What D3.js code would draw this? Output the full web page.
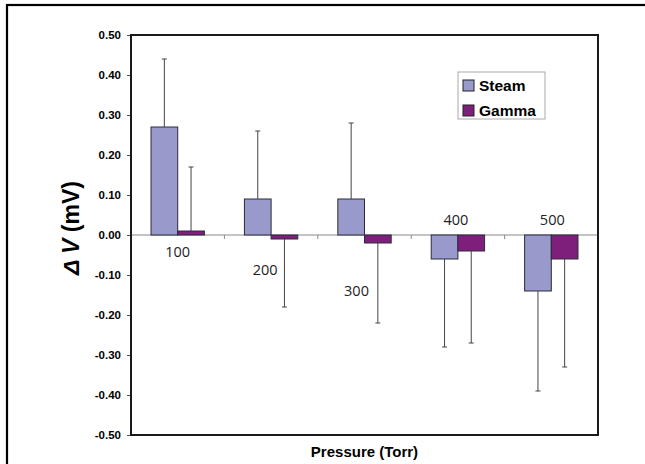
<!DOCTYPE html>
<html>
<head>
<meta charset="utf-8">
<script src="https://cdn.jsdelivr.net/npm/d3@7"></script>
<style>
  body { margin: 0; background: #fff; }
  svg { display: block; }
</style>
</head>
<body>
<svg id="chart" width="645" height="464"></svg>
<script>
// chart values
const pressures = ['100', '200', '300', '400', '500'];
const series = ['Steam', 'Gamma'];
const steamValues = [0.27, 0.09, 0.09, -0.06, -0.14];
const gammaValues = [0.01, -0.01, -0.02, -0.04, -0.06];
// one-sided error bars (away from zero)
const steamErrors = [0.17, 0.17, 0.19, 0.22, 0.25];
const gammaErrors = [0.16, 0.17, 0.20, 0.23, 0.27];
const yTicks = [0.5, 0.4, 0.3, 0.2, 0.1, 0, -0.1, -0.2, -0.3, -0.4, -0.5];

const colors = { Steam: '#9999cc', Gamma: '#7f1f7c' };

const svg = d3.select('#chart');
const plot = { left: 131, top: 35, right: 598, bottom: 435 };

// outer frame (runs off the right and bottom of the window)
svg.append('rect')
  .attr('x', 7).attr('y', 5)
  .attr('width', 700).attr('height', 500)
  .attr('fill', 'none')
  .attr('stroke', '#000')
  .attr('stroke-width', 2.2);

const x = d3.scaleBand()
  .domain(pressures)
  .range([plot.left, plot.right]);

const xSub = d3.scaleBand()
  .domain(series)
  .range([0, x.bandwidth()])
  .paddingOuter(0.75);

const y = d3.scaleLinear()
  .domain([-0.5, 0.5])
  .range([plot.bottom, plot.top]);

const rows = pressures.map((p, i) => ({
  p: p,
  bars: [
    { s: 'Steam', v: steamValues[i], e: steamErrors[i] },
    { s: 'Gamma', v: gammaValues[i], e: gammaErrors[i] }
  ]
}));

// y axis, plain hyphen for negatives like the original
const fmt = d3.format('.2f');
const yAxis = d3.axisLeft(y)
  .tickValues(yTicks)
  .tickSize(4)
  .tickPadding(6)
  .tickFormat(d => fmt(d).replace('\u2212', '-'));

const ya = svg.append('g')
  .attr('transform', `translate(${plot.left},0)`)
  .call(yAxis);
ya.select('.domain').remove();
ya.selectAll('line').attr('stroke', '#555');
ya.selectAll('text')
  .attr('font-family', 'Arial, "Liberation Sans", sans-serif')
  .attr('font-weight', 'bold')
  .attr('font-size', 11.5)
  .attr('fill', '#000');

// zero line with ticks between categories
svg.append('line')
  .attr('x1', plot.left).attr('x2', plot.right)
  .attr('y1', y(0)).attr('y2', y(0))
  .attr('stroke', '#8a8a8a');

svg.append('g').selectAll('line')
  .data(pressures.slice(1))
  .join('line')
  .attr('x1', d => x(d)).attr('x2', d => x(d))
  .attr('y1', y(0)).attr('y2', y(0) + 4)
  .attr('stroke', '#8a8a8a');

// bars
const groups = svg.append('g').selectAll('g')
  .data(rows)
  .join('g')
  .attr('transform', d => `translate(${x(d.p)},0)`);

groups.selectAll('rect')
  .data(d => d.bars)
  .join('rect')
  .attr('x', d => xSub(d.s))
  .attr('width', xSub.bandwidth())
  .attr('y', d => y(Math.max(0, d.v)))
  .attr('height', d => Math.abs(y(d.v) - y(0)))
  .attr('fill', d => colors[d.s])
  .attr('stroke', '#2a2a3a')
  .attr('stroke-width', 1);

// error bars
const errEnd = d => d.v >= 0 ? d.v + d.e : d.v - d.e;
const eb = groups.selectAll('g.err')
  .data(d => d.bars)
  .join('g')
  .attr('class', 'err');

eb.append('line')
  .attr('x1', d => xSub(d.s) + xSub.bandwidth() / 2)
  .attr('x2', d => xSub(d.s) + xSub.bandwidth() / 2)
  .attr('y1', d => y(d.v))
  .attr('y2', d => y(errEnd(d)))
  .attr('stroke', '#444')
  .attr('stroke-width', 1);

eb.append('line')
  .attr('x1', d => xSub(d.s) + xSub.bandwidth() / 2 - 2.5)
  .attr('x2', d => xSub(d.s) + xSub.bandwidth() / 2 + 2.5)
  .attr('y1', d => y(errEnd(d)))
  .attr('y2', d => y(errEnd(d)))
  .attr('stroke', '#444')
  .attr('stroke-width', 1);

// category labels, placed by hand in the original
const labelShift = [[0, 22], [-6, 40], [-8, 61], [-2, -10], [1, -10]];
svg.append('g').selectAll('text')
  .data(pressures)
  .join('text')
  .attr('x', (d, i) => x(d) + x.bandwidth() / 2 + labelShift[i][0])
  .attr('y', (d, i) => y(0) + labelShift[i][1])
  .attr('text-anchor', 'middle')
  .attr('font-family', '"Open Sans", sans-serif')
  .attr('font-size', 14.5)
  .attr('fill', '#222')
  .text(d => d);

// plot border
svg.append('rect')
  .attr('x', plot.left).attr('y', plot.top)
  .attr('width', plot.right - plot.left)
  .attr('height', plot.bottom - plot.top)
  .attr('fill', 'none')
  .attr('stroke', '#1a1a1a')
  .attr('stroke-width', 2);

// legend
const legend = svg.append('g').attr('transform', 'translate(458,72)');
legend.append('rect')
  .attr('width', 87).attr('height', 47)
  .attr('fill', '#fff')
  .attr('stroke', '#aaa');

const li = legend.selectAll('g')
  .data(series)
  .join('g')
  .attr('transform', (d, i) => `translate(5,${8 + i * 25})`);

li.append('rect')
  .attr('width', 11).attr('height', 11)
  .attr('fill', d => colors[d])
  .attr('stroke', '#222');

li.append('text')
  .attr('x', 16).attr('y', 10.5)
  .attr('font-family', 'Arial, "Liberation Sans", sans-serif')
  .attr('font-weight', 'bold')
  .attr('font-size', 15.5)
  .text(d => d);

// axis titles
svg.append('text')
  .attr('x', (plot.left + plot.right) / 2)
  .attr('y', 457)
  .attr('text-anchor', 'middle')
  .attr('font-family', 'Arial, "Liberation Sans", sans-serif')
  .attr('font-weight', 'bold')
  .attr('font-size', 15)
  .text('Pressure (Torr)');

const yt = svg.append('text')
  .attr('transform', 'translate(79,228) rotate(-90)')
  .attr('text-anchor', 'middle')
  .attr('font-family', 'Arial, "Liberation Sans", sans-serif')
  .attr('font-weight', 'bold')
  .attr('font-size', 23);
yt.append('tspan').attr('font-style', 'italic').text('\u0394 V');
yt.append('tspan').text(' (mV)');
</script>
</body>
</html>
